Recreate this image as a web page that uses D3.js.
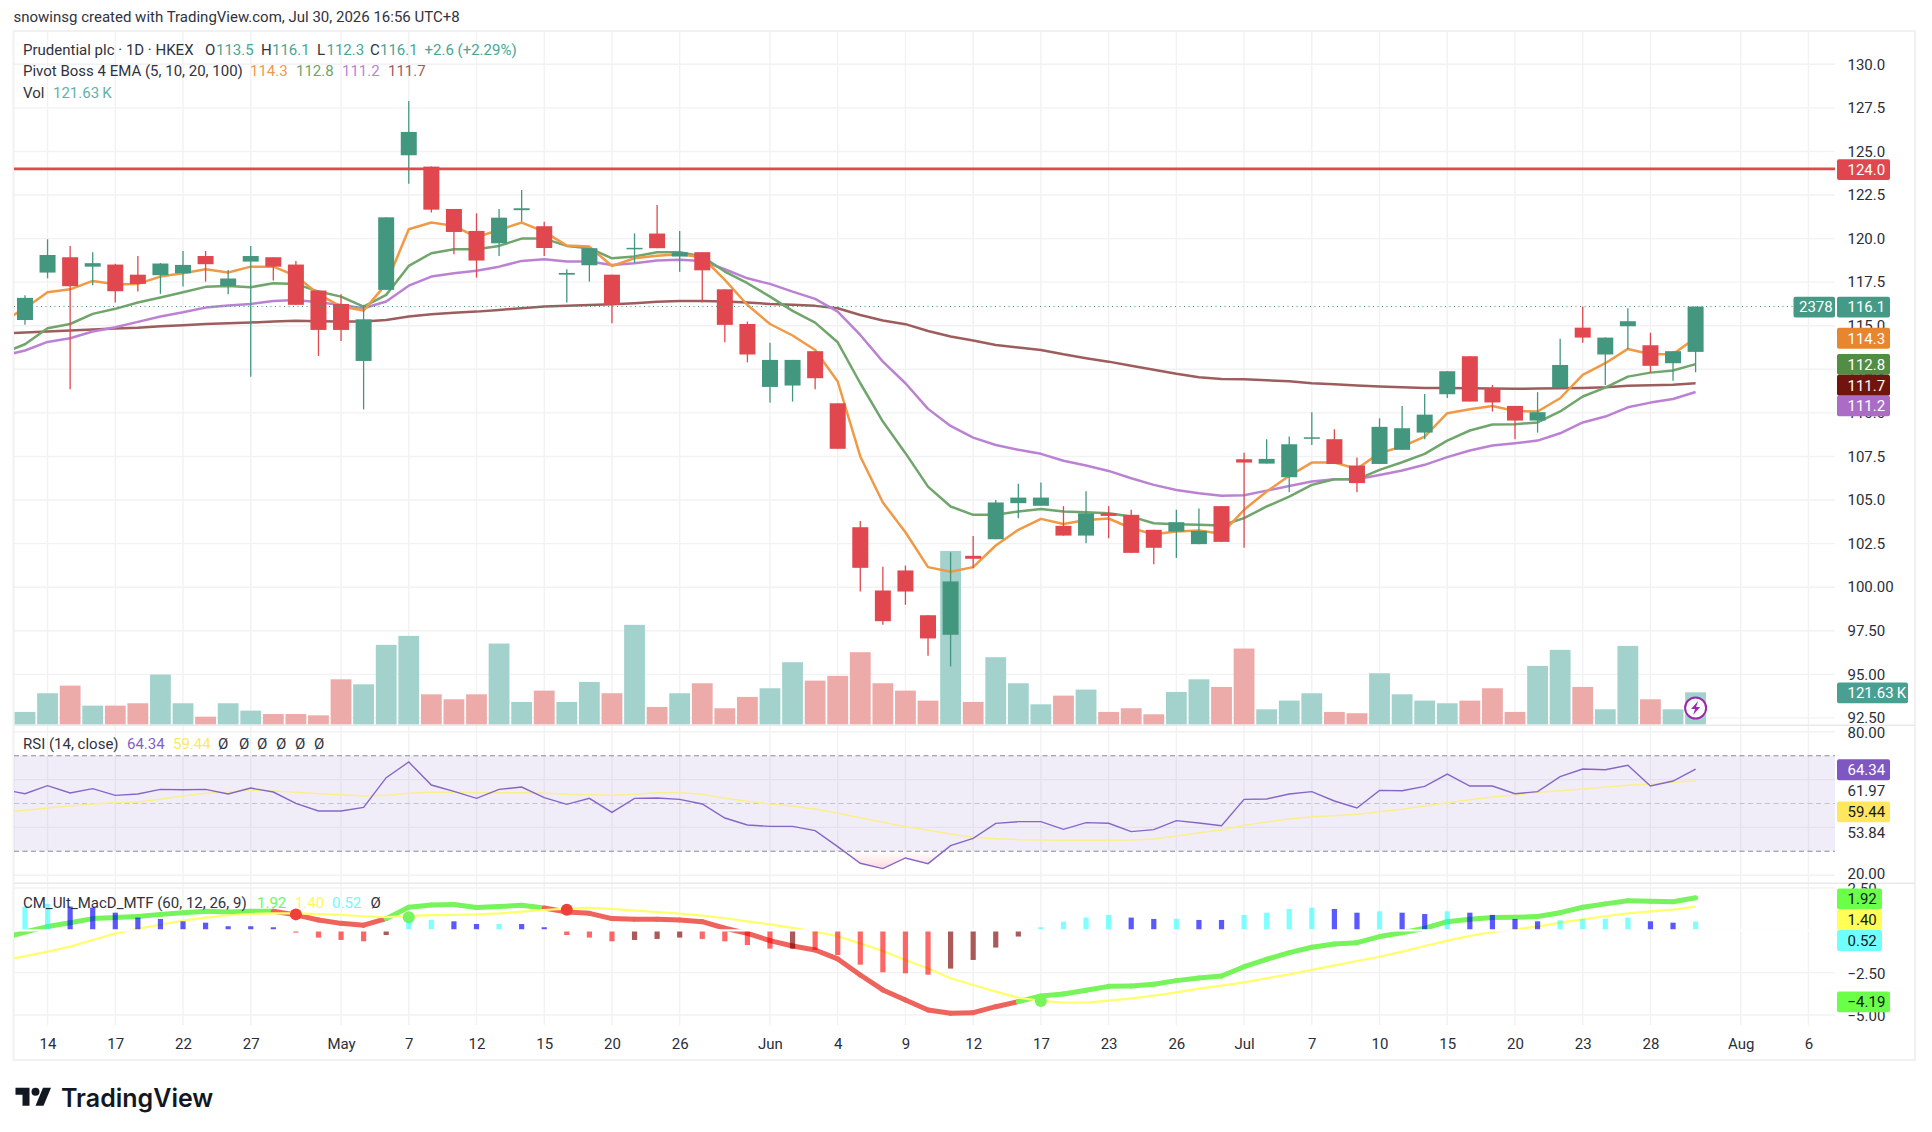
<!DOCTYPE html>
<html>
<head>
    <title>Prudential plc 1D</title>
    <script src="https://d3js.org/d3.v7.min.js"></script>
    <style>
        body { margin: 0; background: #fff; }
        text { font-family: Roboto, sans-serif; font-size: 15px; }
        .axis path, .axis line { display: none; }
        .axis text { font-family: Roboto, sans-serif; font-size: 15px; fill: #2a2e39; }
        .grid { stroke: #f2f2f4; stroke-width: 1.4; }
    </style>
</head>
<body>
<svg id="chart" width="1932" height="1132"></svg>
<script>
// one entry per trading day, first one sits just off the left edge of the chart
var opens = [114.9,115.33,118.05,118.93,118.39,118.51,117.93,117.9,118.01,119.0,117.28,118.68,118.93,118.51,117.02,116.25,112.98,117.06,124.78,124.13,121.7,120.44,119.73,121.63,120.71,117.93,118.47,117.93,119.4,120.29,118.97,119.22,117.09,115.1,111.49,111.57,113.54,110.55,103.44,99.81,100.96,98.39,97.27,101.8,102.75,104.82,104.67,103.52,102.96,104.24,104.15,103.29,103.19,102.47,104.65,107.34,107.09,106.31,108.55,108.49,106.98,107.07,107.88,108.87,111.07,113.25,111.41,110.4,109.56,111.47,114.89,113.35,114.97,113.88,112.85,113.5];
var highs = [115.6,116.75,119.96,119.58,119.22,118.55,119.0,118.6,119.29,119.29,118.2,119.58,118.93,118.72,117.02,116.8,116.2,121.22,127.9,124.13,121.7,121.45,121.7,122.79,120.96,118.24,119.45,117.93,120.3,121.93,120.44,119.22,117.09,115.24,114.03,113.04,113.54,110.55,103.8,101.17,101.24,98.39,102.0,102.94,105.0,105.93,106.0,104.65,105.51,104.65,104.44,103.29,104.44,104.51,104.65,107.71,108.49,108.64,110.04,109.06,107.44,109.69,110.4,111.09,112.39,113.25,111.6,110.4,111.19,114.25,116.1,114.32,116.0,114.6,113.54,116.1];
var lows = [114.4,115.05,117.72,111.36,117.32,116.33,116.96,116.83,117.25,117.53,116.81,112.08,117.59,116.2,113.27,114.13,110.2,117.06,123.15,121.49,119.1,117.76,119.0,120.97,119.0,116.33,117.53,115.14,118.6,119.45,118.1,116.33,114.05,112.9,110.6,110.65,111.36,107.94,99.75,97.84,98.99,96.06,95.45,101.09,102.75,103.96,104.67,102.96,102.52,102.81,101.97,101.32,101.68,102.47,102.6,102.26,107.09,105.45,108.16,107.07,105.45,107.07,107.88,108.49,110.85,110.65,110.08,108.49,108.87,111.47,114.03,111.6,113.65,112.31,111.85,112.33];
var closes = [115.2,116.6,119.06,117.27,118.59,116.98,117.4,118.57,118.49,118.53,117.71,119.0,118.39,116.2,114.76,114.76,115.37,121.22,126.12,121.66,120.38,118.74,121.2,121.74,119.46,118.03,119.45,116.2,119.47,119.45,119.22,118.18,115.05,113.35,113.04,113.04,111.99,107.94,101.11,98.05,99.75,97.06,100.33,101.63,104.86,105.14,105.14,102.96,104.24,104.09,101.97,102.26,103.73,103.23,102.6,107.15,107.36,108.2,108.6,107.07,105.97,109.2,109.12,109.9,112.39,110.65,110.6,109.56,110.04,112.75,114.32,114.32,115.26,112.7,113.54,116.1];
var volumes = [80,47,118,147,71,71,80,189,80,29,80,52,39,39,34,171,152,302,336,114,95,114,307,85,128,85,161,118,378,66,118,156,61,104,137,236,166,184,274,156,128,90,659,85,255,156,76,109,132,47,61,38,123,171,142,288,57,90,118,47,42,194,114,90,80,90,137,47,222,283,142,57,298,95,57,121.63];

var ema5 = [115.24,116.0,116.92,117.09,117.57,117.38,117.4,117.82,118.01,118.24,118.05,118.39,118.39,117.86,116.81,116.1,115.87,117.4,120.54,120.92,120.73,120.08,120.5,120.92,120.4,119.6,119.54,118.43,118.87,119.02,119.1,118.93,117.63,116.19,115.1,114.44,113.61,111.8,107.5,104.86,103.15,101.15,100.88,101.15,102.39,103.29,103.92,103.63,103.86,103.94,103.38,103.04,103.19,103.25,103.06,104.44,105.49,106.39,107.15,107.15,106.79,107.69,108.07,108.64,109.98,110.21,110.4,110.11,110.08,110.84,112.18,112.85,113.67,113.36,113.38,114.3];
var ema10 = [113.42,113.94,114.86,115.1,115.68,115.97,116.33,116.62,116.92,117.23,117.28,117.21,117.44,117.4,116.96,116.67,116.1,116.77,118.43,119.16,119.39,119.39,119.58,120.0,120.0,119.58,119.45,118.87,118.97,119.22,119.22,118.97,118.11,117.44,116.67,115.85,115.18,114.05,111.7,109.5,107.69,105.77,104.63,104.15,104.15,104.34,104.49,104.34,104.3,104.24,104.05,103.67,103.61,103.58,103.54,103.96,104.63,105.2,105.87,106.19,106.19,106.73,107.17,107.65,108.41,108.99,109.33,109.35,109.45,110.08,110.94,111.45,112.08,112.31,112.43,112.8];
var ema20 = [113.27,113.58,114.07,114.28,114.67,114.91,115.22,115.53,115.77,116.04,116.16,116.25,116.42,116.48,116.35,116.19,116.0,116.39,117.3,117.82,118.01,118.15,118.39,118.72,118.81,118.68,118.68,118.49,118.58,118.74,118.78,118.72,118.24,117.72,117.4,116.96,116.54,115.81,114.47,112.94,111.7,110.23,109.25,108.58,108.16,107.88,107.65,107.25,106.98,106.67,106.25,105.87,105.58,105.39,105.24,105.28,105.54,105.81,106.06,106.19,106.19,106.44,106.69,107.02,107.46,107.84,108.13,108.26,108.41,108.83,109.45,109.79,110.32,110.59,110.8,111.2];
var ema100 = [114.57,114.61,114.67,114.72,114.78,114.84,114.89,114.97,115.03,115.1,115.14,115.18,115.24,115.28,115.26,115.24,115.24,115.33,115.53,115.66,115.75,115.81,115.91,116.0,116.1,116.14,116.19,116.23,116.29,116.37,116.42,116.42,116.39,116.33,116.25,116.21,116.14,116.0,115.62,115.3,115.09,114.7,114.38,114.15,113.9,113.75,113.61,113.36,113.14,112.94,112.7,112.47,112.24,112.05,111.95,111.93,111.87,111.82,111.7,111.64,111.57,111.51,111.47,111.43,111.43,111.41,111.4,111.38,111.4,111.41,111.43,111.47,111.55,111.59,111.62,111.7];

var rsi = [55.9,54.11,57.46,54.39,56.2,53.41,53.97,55.92,55.78,55.92,53.97,56.48,54.81,50.07,46.86,46.86,48.4,60.8,67.35,57.73,55.09,52.16,55.92,56.9,52.44,49.65,52.16,46.31,52.16,52.3,51.74,49.79,43.94,41.01,40.45,40.45,38.64,31.95,24.98,22.75,27.21,24.84,32.37,35.43,41.71,42.4,42.4,39.2,41.99,41.71,38.22,39.06,42.82,41.85,40.73,51.74,51.88,53.97,54.95,51.04,48.12,55.5,55.36,57.18,62.33,57.32,57.32,54.11,54.95,61.22,64.42,64.14,65.96,57.32,59.41,64.34];
var rsiMa = [46.44,47.14,48.12,48.95,49.79,50.35,50.63,51.74,53.13,54.25,54.81,55.64,55.23,54.67,54.11,53.69,53.13,53.41,54.25,54.67,54.67,54.53,54.53,54.53,54.25,53.83,53.69,53.41,53.83,54.53,54.53,53.83,52.16,50.9,49.79,48.95,47.7,45.89,44.08,42.12,40.31,38.78,37.25,35.85,35.3,34.88,34.74,34.6,34.6,34.6,34.74,35.16,36.41,37.8,38.92,40.87,42.26,43.52,44.49,44.91,45.47,46.58,47.56,48.95,50.35,51.6,52.72,53.55,54.67,55.36,56.06,56.9,57.59,58.15,58.85,59.44];

var macd = [-0.47,-0.1,0.22,0.45,0.69,0.75,0.81,0.94,1.04,1.12,1.08,1.12,1.12,0.91,0.61,0.41,0.3,0.69,1.36,1.5,1.52,1.34,1.4,1.48,1.32,1.08,1.0,0.69,0.65,0.65,0.61,0.51,0.12,-0.18,-0.61,-0.93,-1.16,-1.69,-2.64,-3.52,-4.11,-4.7,-4.9,-4.86,-4.51,-4.21,-3.88,-3.76,-3.54,-3.31,-3.29,-3.19,-2.97,-2.81,-2.7,-2.15,-1.71,-1.32,-1.0,-0.81,-0.73,-0.37,-0.14,0.12,0.51,0.65,0.75,0.77,0.81,1.04,1.36,1.56,1.75,1.71,1.69,1.92];
var signal = [-1.79,-1.52,-1.26,-0.96,-0.57,-0.18,0.1,0.33,0.57,0.75,0.89,0.96,1.0,1.0,0.96,0.91,0.83,0.77,0.85,0.89,0.91,0.94,1.0,1.1,1.2,1.28,1.32,1.26,1.16,1.08,0.98,0.87,0.71,0.53,0.35,0.14,-0.08,-0.35,-0.77,-1.22,-1.75,-2.26,-2.83,-3.23,-3.62,-3.98,-4.17,-4.27,-4.27,-4.15,-4.02,-3.86,-3.66,-3.44,-3.27,-3.07,-2.83,-2.6,-2.34,-2.07,-1.81,-1.56,-1.26,-0.93,-0.61,-0.33,-0.1,0.06,0.22,0.45,0.65,0.83,1.0,1.12,1.22,1.4];
var hist = [1.3,1.4,1.56,1.4,1.34,1.04,0.75,0.67,0.53,0.45,0.24,0.24,0.18,-0.14,-0.43,-0.57,-0.65,-0.28,0.51,0.61,0.53,0.37,0.38,0.37,0.18,-0.28,-0.43,-0.65,-0.57,-0.51,-0.43,-0.51,-0.65,-0.87,-1.08,-1.08,-1.16,-1.46,-2.03,-2.48,-2.54,-2.62,-2.26,-1.75,-1.02,-0.37,0.18,0.51,0.75,0.91,0.75,0.67,0.68,0.61,0.61,0.91,1.04,1.26,1.34,1.26,1.04,1.12,1.04,0.96,1.12,1.04,0.91,0.67,0.53,0.59,0.66,0.68,0.75,0.53,0.45,0.52];
var crossIdx = [13,18,25,46];
var crossVal = [0.94,0.77,1.22,-4.17];

var xTickIdx = [2,5,8,11,15,18,21,24,27,30,34,37,40,43,46,49,52,55,58,61,64,67,70,73,77,80];
var xTickLabels = ["14","17","22","27","May","7","12","15","20","26","Jun","4","9","12","17","23","26","Jul","7","10","15","20","23","28","Aug","6"];
var priceTicks = [130,127.5,125,122.5,120,117.5,115,112.5,110,107.5,105,102.5,100,97.5,95,92.5];
var rsiTicks = [80,61.97,53.84,20];
var macdTicks = [2.5,0,-2.5,-5];

var svg = d3.select("#chart");
var plotL = 14, plotR = 1835, panelR = 1915, panelT = 31, panelB = 1060, plotB = 1025;
var upColor = "#44977f", downColor = "#e0474f";

var x = d3.scaleLinear().domain([0, 75]).range([2.4, 1695.6]);
var y = d3.scaleLinear().domain([130, 92.5]).range([64.3, 717.9]);
var yVol = d3.scaleLinear().domain([0, 121.63]).range([724.3, 692.3]);
var yRsi = d3.scaleLinear().domain([70, 30]).range([755.7, 851.3]);
var yRsiLabel = d3.scaleLinear().domain(rsiTicks).range([733, 790.7, 833, 874]); // axis shows these unevenly
var yMacd = d3.scaleLinear().domain([0, -5]).range([930.3, 1015]);
var bars = d3.range(closes.length);

var defs = svg.append("defs");
defs.append("clipPath").attr("id", "plot").append("rect")
    .attr("x", plotL).attr("y", panelT).attr("width", plotR - plotL).attr("height", plotB - panelT);
var grad = defs.append("linearGradient").attr("id", "oversold")
    .attr("gradientUnits", "userSpaceOnUse")
    .attr("x1", 0).attr("y1", yRsi(30)).attr("x2", 0).attr("y2", yRsi(22));
grad.append("stop").attr("offset", "0%").attr("stop-color", "#f23645").attr("stop-opacity", 0.01);
grad.append("stop").attr("offset", "100%").attr("stop-color", "#f23645").attr("stop-opacity", 0.2);

// ---- grid
svg.selectAll(".vgrid").data(xTickIdx).enter().append("line")
    .attr("class", "grid")
    .attr("x1", function(d) { return x(d); }).attr("x2", function(d) { return x(d); })
    .attr("y1", panelT).attr("y2", plotB);
svg.selectAll(".hgrid").data(priceTicks).enter().append("line")
    .attr("class", "grid")
    .attr("x1", plotL).attr("x2", plotR)
    .attr("y1", function(d) { return y(d); }).attr("y2", function(d) { return y(d); });
svg.selectAll(".rgrid").data([80, 60, 40, 20]).enter().append("line")
    .attr("class", "grid")
    .attr("x1", plotL).attr("x2", plotR)
    .attr("y1", function(d) { return yRsi(d); }).attr("y2", function(d) { return yRsi(d); });
svg.selectAll(".mgrid").data(macdTicks).enter().append("line")
    .attr("class", "grid")
    .attr("x1", plotL).attr("x2", plotR)
    .attr("y1", function(d) { return yMacd(d); }).attr("y2", function(d) { return yMacd(d); });

// panel frame and pane separators
svg.append("rect").attr("x", plotL - 0.5).attr("y", panelT).attr("width", panelR - plotL + 0.5)
    .attr("height", panelB - panelT).attr("fill", "none").attr("stroke", "#f1f1f2").attr("stroke-width", 2);
svg.selectAll(".sep").data([725.3, 883.3]).enter().append("line")
    .attr("x1", plotL).attr("x2", panelR)
    .attr("y1", function(d) { return d; }).attr("y2", function(d) { return d; })
    .attr("stroke", "#e9e9ed").attr("stroke-width", 1.6);

var plot = svg.append("g").attr("clip-path", "url(#plot)");

// ---- volume
plot.selectAll(".vol").data(bars).enter().append("rect")
    .attr("x", function(i) { return x(i) - 10.4; })
    .attr("width", 20.8)
    .attr("y", function(i) { return yVol(volumes[i]); })
    .attr("height", function(i) { return yVol(0) - yVol(volumes[i]); })
    .attr("fill", function(i) { return closes[i] >= opens[i] ? "#a3d2cc" : "#ecaaa8"; });

// ---- ema lines
var priceLine = d3.line().x(function(d, i) { return x(i); }).y(function(d) { return y(d); });
[[ema100, "#9d5d5d"], [ema20, "#bb82d4"], [ema10, "#70a56c"], [ema5, "#f09a46"]].forEach(function(s) {
    plot.append("path").attr("d", priceLine(s[0]))
        .attr("fill", "none").attr("stroke", s[1]).attr("stroke-width", 2.5)
        .attr("stroke-linejoin", "round");
});

// ---- candles
plot.selectAll(".wick").data(bars).enter().append("line")
    .attr("x1", function(i) { return x(i); }).attr("x2", function(i) { return x(i); })
    .attr("y1", function(i) { return y(highs[i]); }).attr("y2", function(i) { return y(lows[i]); })
    .attr("stroke", function(i) { return closes[i] >= opens[i] ? upColor : downColor; })
    .attr("stroke-width", 1.3);
plot.selectAll(".body").data(bars).enter().append("rect")
    .attr("x", function(i) { return x(i) - 8; })
    .attr("width", 16)
    .attr("y", function(i) { return y(Math.max(opens[i], closes[i])); })
    .attr("height", function(i) { return Math.max(1.5, Math.abs(y(opens[i]) - y(closes[i]))); })
    .attr("fill", function(i) { return closes[i] >= opens[i] ? upColor : downColor; });

// resistance line and last price line
plot.append("line").attr("x1", plotL).attr("x2", plotR)
    .attr("y1", y(124)).attr("y2", y(124))
    .attr("stroke", downColor).attr("stroke-width", 2.8);
svg.append("line").attr("x1", plotL).attr("x2", 1793)
    .attr("y1", y(116.1)).attr("y2", y(116.1))
    .attr("stroke", upColor).attr("stroke-width", 1.1).attr("stroke-dasharray", "1 3.5");

// ---- RSI pane
plot.append("rect").attr("x", plotL).attr("width", plotR - plotL)
    .attr("y", yRsi(70)).attr("height", yRsi(30) - yRsi(70))
    .attr("fill", "#7e57c2").attr("opacity", 0.11);
[[70, "#8a8a90"], [50, "#c4c4c8"], [30, "#8a8a90"]].forEach(function(s) {
    plot.append("line").attr("x1", plotL).attr("x2", plotR)
        .attr("y1", yRsi(s[0])).attr("y2", yRsi(s[0]))
        .attr("stroke", s[1]).attr("stroke-width", 1.1).attr("stroke-dasharray", "5 3.5");
});
defs.append("clipPath").attr("id", "below30").append("rect")
    .attr("x", plotL).attr("y", yRsi(30)).attr("width", plotR - plotL).attr("height", 30);
plot.append("path")
    .attr("d", d3.area().x(function(d, i) { return x(i); }).y0(yRsi(30)).y1(function(d) { return yRsi(d); })(rsi))
    .attr("fill", "url(#oversold)").attr("clip-path", "url(#below30)");
var rsiLine = d3.line().x(function(d, i) { return x(i); }).y(function(d) { return yRsi(d); });
plot.append("path").attr("d", rsiLine(rsiMa)).attr("fill", "none")
    .attr("stroke", "#fbee8e").attr("stroke-width", 1.5);
plot.append("path").attr("d", rsiLine(rsi)).attr("fill", "none")
    .attr("stroke", "#8566c6").attr("stroke-width", 1.4);

// ---- MACD pane
var macdLine = d3.line().x(function(d, i) { return x(i); }).y(function(d) { return yMacd(d); });
plot.selectAll(".macdseg").data(d3.pairs(bars)).enter().append("line")
    .attr("x1", function(p) { return x(p[0]); }).attr("x2", function(p) { return x(p[1]); })
    .attr("y1", function(p) { return yMacd(macd[p[0]]); }).attr("y2", function(p) { return yMacd(macd[p[1]]); })
    .attr("stroke", function(p) { return macd[p[1]] >= signal[p[1]] ? "#77f35c" : "#ee635b"; })
    .attr("stroke-width", 5).attr("stroke-linecap", "round");
plot.append("path").attr("d", macdLine(signal)).attr("fill", "none")
    .attr("stroke", "#ffff6b").attr("stroke-width", 2.2);
plot.selectAll(".cross").data(crossIdx).enter().append("circle")
    .attr("cx", function(i) { return x(i); })
    .attr("cy", function(i, k) { return yMacd(crossVal[k]); })
    .attr("r", 6)
    .attr("fill", function(i) { return macd[i] >= signal[i] ? "#78f35c" : "#ee4038"; });
function histColor(i) {
    var prev = i > 0 ? hist[i - 1] : hist[i];
    if (hist[i] >= 0) return hist[i] > prev ? "rgba(0,255,255,0.5)" : "rgba(0,0,255,0.65)";
    return hist[i] < prev ? "rgba(255,0,0,0.6)" : "rgba(128,0,0,0.65)";
}
plot.selectAll(".hist").data(bars).enter().append("rect")
    .attr("x", function(i) { return x(i) - 2.6; })
    .attr("width", 5.2)
    .attr("y", function(i) { return Math.min(yMacd(hist[i]), yMacd(0)); })
    .attr("height", function(i) { return Math.abs(yMacd(hist[i]) - yMacd(0)); })
    .attr("fill", histColor);
svg.append("line").attr("x1", plotL).attr("x2", 1884)
    .attr("y1", yMacd(0)).attr("y2", yMacd(0))
    .attr("stroke", "#fff").attr("stroke-width", 2.2);

// ---- axes
svg.append("g").attr("class", "axis").attr("transform", "translate(1847.5,0)")
    .call(d3.axisRight(y).tickValues(priceTicks).tickSize(0).tickPadding(0)
        .tickFormat(function(d) { return d > 100 ? d.toFixed(1) : d.toFixed(2); }));
svg.append("g").attr("class", "axis").attr("transform", "translate(1847.5,0)")
    .call(d3.axisRight(yRsiLabel).tickValues(rsiTicks).tickSize(0).tickPadding(0)
        .tickFormat(function(d) { return d.toFixed(2); }));
svg.append("g").attr("class", "axis").attr("transform", "translate(1847.5,1)")
    .call(d3.axisRight(yMacd).tickValues(macdTicks).tickSize(0).tickPadding(0)
        .tickFormat(function(d) { return d.toFixed(2).replace("-", "\u2212"); }));
svg.append("g").attr("class", "axis").attr("transform", "translate(0," + plotB + ")")
    .call(d3.axisBottom(x).tickValues(xTickIdx).tickSize(0).tickPadding(13)
        .tickFormat(function(d, i) { return xTickLabels[i]; }));

// ---- price labels on the axis
function tag(cy, txt, bg, fg, w, left, pad) {
    var lx = left === undefined ? 1837 : left;
    svg.append("rect").attr("x", lx).attr("y", cy - 10.4).attr("width", w).attr("height", 20.8)
        .attr("rx", 2).attr("fill", bg);
    svg.append("text").attr("x", lx + (pad === undefined ? 10.5 : pad)).attr("y", cy + 5.3).attr("fill", fg).text(txt);
}
tag(y(124) + 0.8, "124.0", downColor, "#fff", 53);
tag(y(116.1) + 0.6, "2378", "#449a86", "#fff", 41.5, 1793.5, 5.5);
tag(y(116.1) + 0.6, "116.1", "#449a86", "#fff", 53);
tag(y(114.3) + 0.3, "114.3", "#e8852f", "#fff", 53);
tag(y(112.8) + 0.2, "112.8", "#538c44", "#fff", 53);
tag(y(111.7) + 2, "111.7", "#70140d", "#fff", 53);
tag(y(111.2) + 14, "111.2", "#ab6cc6", "#fff", 53);
tag(yVol(121.63) + 0.5 , "121.63\u2009K", "#4a9f93", "#fff", 71);
tag(yRsi(64.34) + 0.5, "64.34", "#7e57c2", "#fff", 53);
tag(yRsi(59.44) + 31, "59.44", "#ffe760", "#131722", 53);
tag(yMacd(1.92) + 1, "1.92", "#6bff4a", "#131722", 45);
tag(yMacd(1.40) + 13, "1.40", "#ffff55", "#131722", 45);
tag(yMacd(0.52) + 19, "0.52", "#6fffff", "#131722", 45);
tag(yMacd(-4.19) + 0.5, "\u22124.19", "#6bff4a", "#131722", 53);

// lightning badge over the last volume bar
var badge = svg.append("g").attr("transform", "translate(" + x(75) + ",708)");
badge.append("circle").attr("r", 10.5).attr("fill", "#fff").attr("stroke", "#9c27b0").attr("stroke-width", 2);
badge.append("path").attr("d", "M2.5-7L-4.5 1H-0.5L-2.5 7L4.5-1H0.5Z").attr("fill", "#9c27b0");

// ---- legends
function row(ty, items) {
    items.forEach(function(it) {
        svg.append("text").attr("x", it[0]).attr("y", ty).attr("fill", it[2] || "#2f3340").text(it[1]);
    });
}
var teal = "#4aa593";
svg.append("text").attr("x", 13.5).attr("y", 22).attr("fill", "#2f3340").text("snowinsg created with TradingView.com, Jul 30, 2026 16:56 UTC+8");
row(55, [[23, "Prudential plc \u00b7 1D \u00b7 HKEX"], [205, "O"], [216, "113.5", teal], [261, "H"], [272, "116.1", teal],
    [317, "L"], [326.5, "112.3", teal], [370, "C"], [380, "116.1", teal], [424.5, "+2.6 (+2.29%)", teal]]);
row(76, [[23, "Pivot Boss 4 EMA (5, 10, 20, 100)"], [250, "114.3", "#ef9a4c"], [296, "112.8", "#6ea56a"], [342, "111.2", "#bb82d4"], [388, "111.7", "#9d5d5d"]]);
row(97.5, [[23, "Vol"], [53, "121.63\u2009K", "#5fb3a8"]]);
row(749, [[23, "RSI (14, close)"], [127, "64.34", "#7e62c6"], [173, "59.44", "#fde960"],
    [218, "\u00d8"], [239, "\u00d8"], [257, "\u00d8"], [276, "\u00d8"], [295, "\u00d8"], [314, "\u00d8"]]);
row(908, [[23, "CM_Ult_MacD_MTF (60, 12, 26, 9)"], [257, "1.92", "#6cfb4e"], [295, "1.40", "#fbfb55"], [332, "0.52", "#6ffbfb"], [370.6, "\u00d8"]]);

// ---- logo
var logo = svg.append("g").attr("transform", "translate(15.5,1083.7)").attr("fill", "#131722");
logo.append("path").attr("d", "M14 22H7V11H0V4h14v18zM28 22h-8l7.5-18h8L28 22z");
logo.append("circle").attr("cx", 20).attr("cy", 8).attr("r", 4);
svg.append("text").attr("x", 61).attr("y", 1107).attr("fill", "#131722")
    .style("font-family", "Inter, sans-serif").style("font-size", "25px").style("font-weight", 600)
    .text("TradingView");
</script>
</body>
</html>
